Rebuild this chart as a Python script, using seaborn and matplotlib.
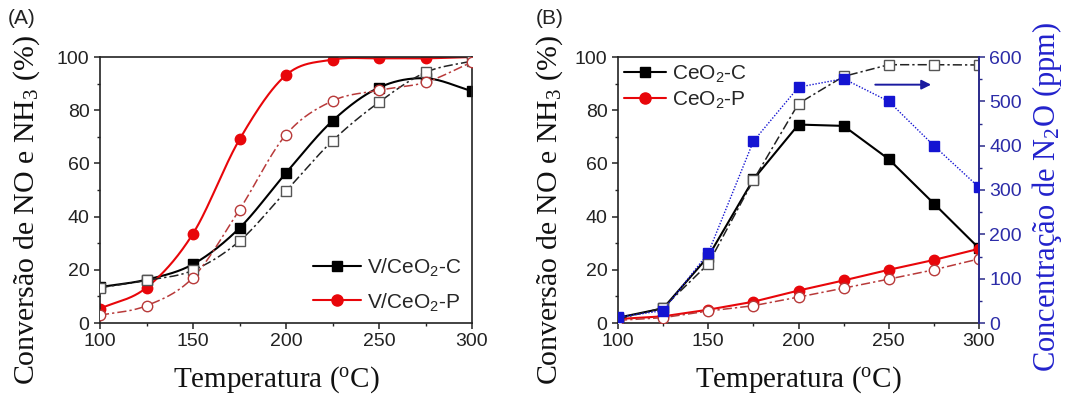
import numpy as np
import pandas as pd
import matplotlib
matplotlib.use("Agg")
import matplotlib.pyplot as plt
from matplotlib.lines import Line2D
from matplotlib.ticker import MultipleLocator
import seaborn as sns

# Temperature grid (°C)
temps = [100, 125, 150, 175, 200, 225, 250, 275, 300]

# Panel A: V/CeO2 catalysts, conversion (%)
a_c_no = [13.5, 16.3, 22.1, 35.7, 56.4, 76.0, 88.5, 92.0, 87.2]     # filled squares
a_c_nh3 = [13.3, 16.0, 19.8, 30.8, 49.6, 68.5, 83.0, 94.2, 98.5]    # open squares
a_p_no = [5.4, 13.3, 33.6, 69.0, 93.2, 99.0, 99.5, 99.5, 100.0]     # filled circles
a_p_nh3 = [2.9, 6.5, 17.1, 42.6, 70.8, 83.5, 87.5, 90.5, 98.1]      # open circles

# Panel B: CeO2 supports, conversion (%) and N2O (ppm)
b_c_no = [2.0, 5.5, 25.0, 54.0, 74.6, 74.1, 61.6, 44.9, 28.1]
b_c_nh3 = [1.5, 5.7, 22.2, 53.7, 82.5, 92.7, 97.1, 97.1, 97.0]
b_p_no = [1.5, 2.5, 5.0, 8.0, 12.2, 16.0, 20.0, 23.7, 27.9]
b_p_nh3 = [1.0, 2.0, 4.5, 6.5, 9.75, 13.1, 16.5, 20.0, 24.1]
b_n2o = [13, 28, 158, 410, 532, 551, 500, 400, 306]

labels_a = ["V/CeO$_\\mathsf{2}$-C", "V/CeO$_\\mathsf{2}$-P"]
labels_b = ["CeO$_\\mathsf{2}$-C", "CeO$_\\mathsf{2}$-P"]

RED = "#e8060a"
DRED = "#b83a3a"
BLUE = "#1414d2"
NAVY = "#2a2a8a"

sns.set_theme(style="ticks")
plt.rcParams["font.family"] = ["Liberation Sans", "DejaVu Sans"]
plt.rcParams["mathtext.fontset"] = "custom"
plt.rcParams["mathtext.rm"] = "Liberation Serif"
plt.rcParams["mathtext.sf"] = "Liberation Sans"
plt.rcParams["mathtext.it"] = "Liberation Serif:italic"


def smooth(x, y, n=40):
    """Cubic Hermite (Catmull-Rom) curve through the measured points."""
    x = np.asarray(x, float)
    y = np.asarray(y, float)
    m = np.empty_like(y)
    m[1:-1] = (y[2:] - y[:-2]) / (x[2:] - x[:-2])
    m[0] = (y[1] - y[0]) / (x[1] - x[0])
    m[-1] = (y[-1] - y[-2]) / (x[-1] - x[-2])
    xs, ys = [], []
    for i in range(len(x) - 1):
        h = x[i + 1] - x[i]
        t = np.linspace(0, 1, n, endpoint=False)
        h00 = 2 * t**3 - 3 * t**2 + 1
        h10 = t**3 - 2 * t**2 + t
        h01 = -2 * t**3 + 3 * t**2
        h11 = t**3 - t**2
        xs.append(x[i] + t * h)
        ys.append(h00 * y[i] + h10 * h * m[i] + h01 * y[i + 1] + h11 * h * m[i + 1])
    xs.append([x[-1]])
    ys.append([y[-1]])
    return np.concatenate(xs), np.concatenate(ys)


def series(ax, y, color, ls, marker, face, edge, ms, curve, lw=1.5, z=2):
    if curve:
        xs, ys = smooth(temps, y)
    else:
        xs, ys = np.array(temps, float), np.array(y, float)
    sns.lineplot(x=xs, y=ys, ax=ax, color=color, linestyle=ls, linewidth=lw,
                 estimator=None, sort=False, zorder=z)
    ax.plot(temps, y, linestyle="none", marker=marker, markersize=ms,
            markerfacecolor=face, markeredgecolor=edge, markeredgewidth=1.0,
            zorder=z + 0.5, clip_on=True)


fig = plt.figure(figsize=(10.65, 3.94), dpi=100)
axA = fig.add_axes([100 / 1065, 71 / 394, 372 / 1065, 266 / 394])
axB = fig.add_axes([618 / 1065, 71 / 394, 361 / 1065, 266 / 394])

dashdot = (0, (6, 2, 1.5, 2))

# Panel A
series(axA, a_c_no, "black", "-", "s", "black", "black", 6.5, True)
series(axA, a_p_no, RED, "-", "o", RED, RED, 7.5, True)
series(axA, a_c_nh3, "#222222", dashdot, "s", "white", "#555555", 6.5, True, lw=1.1, z=3)
series(axA, a_p_nh3, DRED, dashdot, "o", "white", DRED, 7.5, True, lw=1.1, z=3)

# Panel B
series(axB, b_c_no, "black", "-", "s", "black", "black", 6.5, False)
series(axB, b_c_nh3, "#222222", dashdot, "s", "white", "#555555", 6.5, False, lw=1.1, z=3)
series(axB, b_p_no, RED, "-", "o", RED, RED, 7.5, False)
series(axB, b_p_nh3, DRED, dashdot, "o", "white", DRED, 7.5, False, lw=1.1, z=3)

axR = axB.twinx()
sns.lineplot(x=temps, y=b_n2o, ax=axR, color=BLUE, linestyle=(0, (1, 1.2)),
             linewidth=1.0, estimator=None, zorder=4)
axR.plot(temps, b_n2o, linestyle="none", marker="s", markersize=6.5,
         markerfacecolor=BLUE, markeredgecolor=BLUE, zorder=5)
axR.annotate("", xy=(275, 89.6 * 6), xytext=(241, 89.6 * 6),
             arrowprops=dict(arrowstyle="-|>", color="#1a1aa0", lw=1.4,
                             mutation_scale=14))

for ax in (axA, axB):
    ax.set_xlim(100, 300)
    ax.set_ylim(0, 100)
    ax.xaxis.set_major_locator(MultipleLocator(50))
    ax.xaxis.set_minor_locator(MultipleLocator(25))
    ax.yaxis.set_major_locator(MultipleLocator(20))
    ax.yaxis.set_minor_locator(MultipleLocator(10))
    ax.tick_params(which="major", direction="out", length=4.5, width=1.1,
                   labelsize=14, pad=3, color="#222222", labelcolor="#222222")
    ax.tick_params(which="minor", direction="out", length=2.5, width=1.0,
                   color="#222222")
    ax.tick_params(top=False, right=False, which="both")
    for s in ax.spines.values():
        s.set_visible(True)
        s.set_linewidth(1.2)
        s.set_color("#222222")
    ax.set_xlabel("Temperatura ($^{\\mathrm{o}}$C)", family="Liberation Serif",
                  fontsize=21, color="#111111")
    ax.set_ylabel("Conversão de NO e NH$_3$ (%)", family="Liberation Serif",
                  fontsize=21.5, color="#111111")

axA.xaxis.set_label_coords(0.473, -0.155)
axB.xaxis.set_label_coords(0.5, -0.155)
axA.yaxis.set_label_coords(-0.157, 0.425)
axB.yaxis.set_label_coords(-0.148, 0.425)

axR.set_ylim(0, 600)
axR.yaxis.set_major_locator(MultipleLocator(100))
axR.yaxis.set_minor_locator(MultipleLocator(50))
axR.tick_params(axis="y", which="major", direction="out", length=4.5, width=1.1,
                labelsize=14, pad=3, color=NAVY, labelcolor="#2c2ca8")
axR.tick_params(axis="y", which="minor", direction="out", length=2.5, width=1.0,
                color=NAVY)
axR.spines["right"].set_color(NAVY)
axR.spines["right"].set_linewidth(1.4)
for k in ("left", "top", "bottom"):
    axR.spines[k].set_visible(False)
axR.set_ylabel("Concentração de N$_2$O (ppm)", family="Liberation Serif",
               fontsize=22, color="#2222cc")
axR.yaxis.set_label_coords(1.14, 0.474)
axB.spines["right"].set_visible(False)


def handles(specs):
    return [Line2D([0], [0], color=c, lw=1.5, marker=m, markersize=ms,
                   markerfacecolor=c, markeredgecolor=c)
            for c, m, ms in specs]


legA = axA.legend(handles([("black", "s", 7), (RED, "o", 8)]), labels_a,
                  loc="lower right", bbox_to_anchor=(1.0, 0.0), frameon=False,
                  fontsize=15, handlelength=2.3, handletextpad=0.3,
                  labelspacing=0.6, borderaxespad=0.2, borderpad=0.3)
legB = axB.legend(handles([("black", "s", 7), (RED, "o", 8)]), labels_b,
                  loc="upper left", bbox_to_anchor=(0.0, 1.0), frameon=False,
                  fontsize=15, handlelength=2.0, handletextpad=0.3,
                  labelspacing=0.25, borderaxespad=0.1, borderpad=0.2)
legB.set_zorder(10)

fig.text(8 / 1065, 1 - 18 / 394, "(A)", fontsize=15, va="center", ha="left",
         color="#222222")
fig.text(536 / 1065, 1 - 18 / 394, "(B)", fontsize=15, va="center", ha="left",
         color="#222222")

fig.savefig("out.png", dpi=100, facecolor="white")
